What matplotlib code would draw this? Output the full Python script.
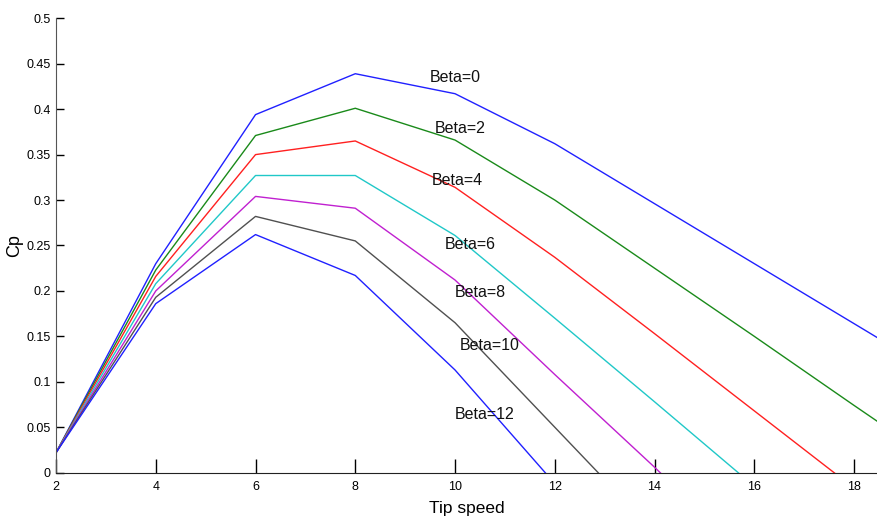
import matplotlib
matplotlib.use("Agg")
import matplotlib.pyplot as plt

tip_speed = [2, 4, 6, 8, 10, 12, 14, 16, 18, 20]
beta_labels = ["Beta=0", "Beta=2", "Beta=4", "Beta=6", "Beta=8", "Beta=10", "Beta=12"]
cp_beta0 = [0.022, 0.230, 0.394, 0.439, 0.417, 0.362, 0.296, 0.230, 0.164, 0.098]
cp_beta2 = [0.022, 0.223, 0.371, 0.401, 0.366, 0.300, 0.225, 0.150, 0.074, -0.001]
cp_beta4 = [0.022, 0.216, 0.350, 0.365, 0.314, 0.237, 0.153, 0.068, -0.017, -0.10]
cp_beta6 = [0.022, 0.208, 0.327, 0.327, 0.261, 0.170, 0.078, -0.015, -0.10, -0.20]
cp_beta8 = [0.022, 0.200, 0.304, 0.291, 0.212, 0.108, 0.006, -0.10, -0.20, -0.30]
cp_beta10 = [0.022, 0.193, 0.282, 0.255, 0.165, 0.050, -0.065, -0.18, -0.30, -0.40]
cp_beta12 = [0.022, 0.186, 0.262, 0.217, 0.113, -0.012, -0.14, -0.27, -0.40, -0.50]
series = [cp_beta0, cp_beta2, cp_beta4, cp_beta6, cp_beta8, cp_beta10, cp_beta12]
colors = ["#2020ff", "#1a8a1a", "#ff2020", "#20c8c8", "#c020d0", "#505050", "#2020ff"]
label_pos = [(10.0, 0.435), (10.1, 0.379), (10.05, 0.321), (10.3, 0.251), (10.5, 0.198), (10.7, 0.140), (10.6, 0.064)]

plt.rcParams['font.family'] = ['Liberation Sans', 'DejaVu Sans']

fig = plt.figure(figsize=(8.78, 5.18), dpi=100)
ax = fig.add_axes([0.0638, 0.0875, 0.9362, 0.8772])

for ys, c in zip(series, colors):
    ax.plot(tip_speed, ys, color=c, lw=1.0)

for (x, y), lab in zip(label_pos, beta_labels):
    ax.text(x, y, lab, fontsize=11.5, ha='center', va='center', color='#111111')

ax.set_xlim(2, 18.48)
ax.set_ylim(0, 0.5)
ax.set_xticks([2, 4, 6, 8, 10, 12, 14, 16, 18])
ax.set_yticks([0, 0.05, 0.1, 0.15, 0.2, 0.25, 0.3, 0.35, 0.4, 0.45, 0.5])
ax.set_yticklabels(["0", "0.05", "0.1", "0.15", "0.2", "0.25", "0.3", "0.35", "0.4", "0.45", "0.5"])
ax.tick_params(axis='x', direction='in', length=10, width=1, labelsize=9, pad=6)
ax.tick_params(axis='y', direction='in', length=6, width=1, labelsize=9, pad=4)
for lbl in ax.get_xticklabels() + ax.get_yticklabels():
    lbl.set_family(['Liberation Sans Narrow', 'Liberation Sans', 'DejaVu Sans'])
ax.spines['top'].set_visible(False)
ax.spines['right'].set_visible(False)
ax.spines['left'].set_color('#555555')
ax.spines['bottom'].set_color('#222222')
ax.set_xlabel("Tip speed", fontsize=12.5, labelpad=6)
ax.set_ylabel("Cp", fontsize=13, labelpad=2)

fig.savefig("out.png", dpi=100)
